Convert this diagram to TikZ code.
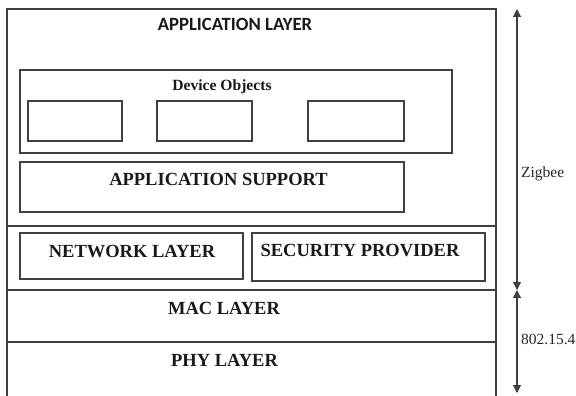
\documentclass[tikz,border=0pt]{standalone}
\usepackage{fontspec}
\setmainfont{Liberation Serif}
\newfontfamily\calib{Carlito}
\usetikzlibrary{arrows.meta}
\tikzset{
  ln/.style={draw=black!75, line width=1.1pt},
  lbl/.style={anchor=base, inner sep=0pt, text=black!90, font=\bfseries\fontsize{18.5}{21}\selectfont},
  side/.style={anchor=base west, inner sep=0pt, text=black!85, font=\fontsize{15.5}{18}\selectfont},
  arr/.style={draw=black!75, line width=1.1pt, -{Triangle[width=8pt,length=8pt]}}
}
\begin{document}
\begin{tikzpicture}[x=1pt,y=-1pt]
\useasboundingbox (0,0) rectangle (576,396);
% outer frame
\coordinate (ol) at (7,396);
\coordinate (or) at (496,396);
\draw[ln] (ol) -- (7,9) -- (496,9) -- (or);
\draw[ln] (7,226) -- (496,226);
\draw[ln] (7,290) -- (496,290);
\draw[ln] (7,342) -- (496,342);
% boxes
\draw[ln] (20,70) rectangle (452,153);
\draw[ln] (28,101) rectangle (122,141);
\draw[ln] (157,101) rectangle (252,141);
\draw[ln] (308,101) rectangle (404,141);
\draw[ln] (20,162) rectangle (404,212);
\draw[ln] (20,233) rectangle (243,279);
\draw[ln] (252,233) rectangle (485,281);
% labels
\node[lbl, font=\calib\bfseries\fontsize{18.7}{21}\selectfont] (al) at (235,31) {APPLICATION LAYER};
\node[lbl, font=\bfseries\fontsize{15.6}{18}\selectfont] (do) at (222,91) {Device Objects};
\node[lbl] (as) at (218.5,185) {APPLICATION SUPPORT};
\node[lbl] (nl) at (132,257) {NETWORK LAYER};
\node[lbl] (sp) at (360,256) {SECURITY PROVIDER};
\node[lbl] (ml) at (224,314) {MAC LAYER};
\node[lbl] (pl) at (224.5,366) {PHY LAYER};
% side arrows
\coordinate (zt) at (517,9);
\coordinate (zb) at (517,290);
\coordinate (it) at (517,290);
\coordinate (ib) at (517,393);
\coordinate (zm) at (517,150);
\coordinate (im) at (517,340);
\draw[arr] (zm) -- (zt);
\draw[arr] (zm) -- (zb);
\draw[arr] (im) -- (it);
\draw[arr] (im) -- (ib);
\node[side] (zl) at (521,177) {Zigbee};
\node[side] (il) at (521,344) {802.15.4};
\end{tikzpicture}
\end{document}
